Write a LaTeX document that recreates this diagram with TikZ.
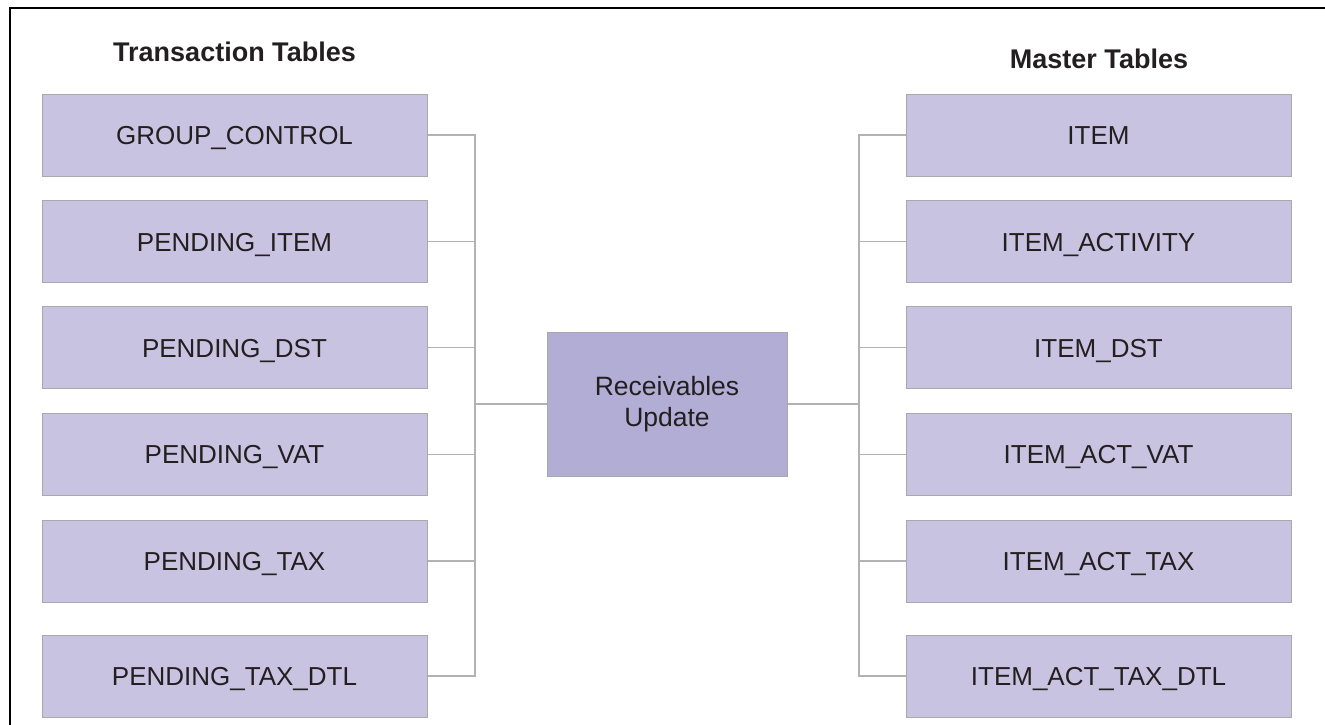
\documentclass[tikz,border=0pt]{standalone}
\usepackage{fontspec}
\setmainfont{Liberation Sans}
\definecolor{boxfill}{HTML}{C7C3E0}
\definecolor{hubfill}{HTML}{B2ADD4}
\definecolor{boxline}{HTML}{A9A9AC}
\definecolor{conn}{HTML}{B2B2B6}
\definecolor{txt}{HTML}{231F20}
\begin{document}
\begin{tikzpicture}[x=1pt,y=-1pt,
  tablebox/.style={draw=boxline,line width=1pt,fill=boxfill,minimum width=385pt,minimum height=82pt,
    inner sep=0pt,text height=18.6pt,text depth=0pt,text=txt,font=\fontsize{26}{31}\selectfont},
  hubbox/.style={draw=boxline,line width=1pt,fill=hubfill,minimum width=240pt,minimum height=144pt,
    inner sep=0pt,align=center,text=txt,font=\fontsize{26.5}{31.5}\selectfont},
  title/.style={inner sep=0pt,text height=19.3pt,text depth=0pt,text=txt,font=\bfseries\fontsize{27}{31}\selectfont},
  link/.style={draw=conn,line width=1.3pt}]
\useasboundingbox (0,0) rectangle (1325,725);
\draw[line width=2.5pt] (10,727) -- (10,8) -- (1327,8);

\node[title] (tt) at (234.5,51.7) {Transaction Tables};
\node[title] (mt) at (1099,59.2) {Master Tables};

\node[hubbox] (hub) at (667,404) {Receivables\\Update};

\coordinate (busL) at (475,0);
\coordinate (busR) at (859,0);

\node[tablebox] (l1) at (234.5,135) {GROUP\_CONTROL};
\node[tablebox] (l2) at (234.5,241.7) {PENDING\_ITEM};
\node[tablebox] (l3) at (234.5,347.7) {PENDING\_DST};
\node[tablebox] (l4) at (234.5,454.3) {PENDING\_VAT};
\node[tablebox] (l5) at (234.5,561) {PENDING\_TAX};
\node[tablebox] (l6) at (234.5,676) {PENDING\_TAX\_DTL};

\node[tablebox] (r1) at (1098.5,135) {ITEM};
\node[tablebox] (r2) at (1098.5,241.7) {ITEM\_ACTIVITY};
\node[tablebox] (r3) at (1098.5,347.7) {ITEM\_DST};
\node[tablebox] (r4) at (1098.5,454.3) {ITEM\_ACT\_VAT};
\node[tablebox] (r5) at (1098.5,561) {ITEM\_ACT\_TAX};
\node[tablebox] (r6) at (1098.5,676) {ITEM\_ACT\_TAX\_DTL};

\foreach \n in {l1,l2,l3,l4,l5,l6}
  \draw[link] (\n.east) -- (\n.east -| busL) |- (hub.west);
\foreach \n in {r1,r2,r3,r4,r5,r6}
  \draw[link] (\n.west) -- (\n.west -| busR) |- (hub.east);
\end{tikzpicture}
\end{document}
